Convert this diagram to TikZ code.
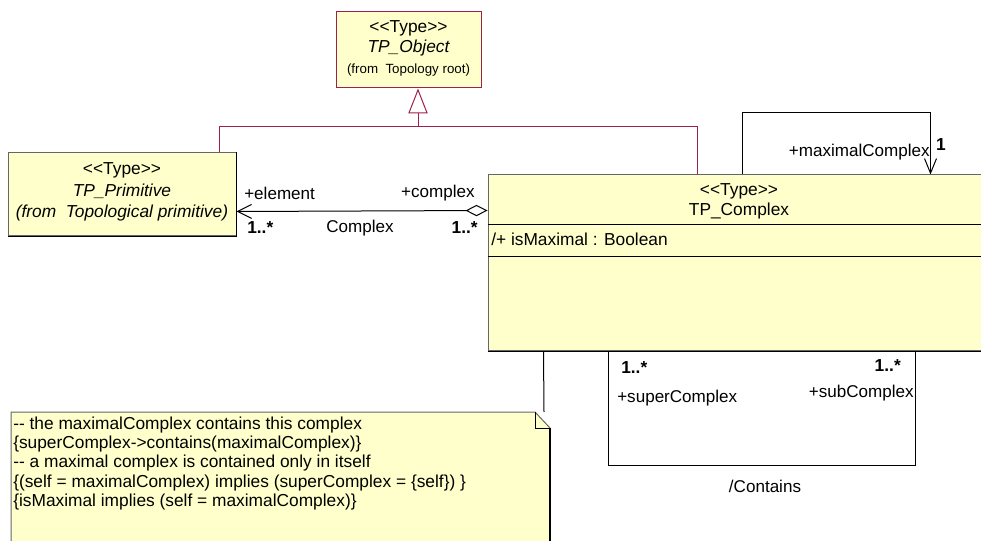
\documentclass[tikz,border=0pt]{standalone}
\usepackage{fontspec}
\setmainfont{Liberation Sans}
\usetikzlibrary{arrows.meta,positioning,calc}

\definecolor{umlfill}{RGB}{255,255,204}
\definecolor{genred}{RGB}{160,30,80}

\begin{document}
\begin{tikzpicture}[x=0.75pt,y=-0.75pt,>=Latex,
    box/.style={draw=black!60, fill=umlfill, line width=0.75pt, inner sep=0pt},
    boxshade/.style={draw=black, line width=1.1pt},
    lbl/.style={font=\fontsize{12.8}{14}\selectfont, inner sep=0pt},
    mult/.style={font=\fontsize{13}{14}\selectfont\bfseries, inner sep=0pt},
    gen/.style={draw=genred, line width=0.75pt},
    assoc/.style={draw=black, line width=0.75pt}]
    \useasboundingbox (0,0) rectangle (981,541);

    % Classes
    \node[box, draw=genred, minimum width=145*0.75pt, minimum height=76*0.75pt] (obj) at (408.5,50) {};
    \node[lbl, font=\fontsize{13}{14}\selectfont] (objst) at (408.5,28) {<{}<Type>{}>};
    \node[lbl, font=\fontsize{13}{14}\selectfont\itshape] (objname) at (408.5,48) {TP\_Object};
    \node[lbl, font=\fontsize{10}{11}\selectfont] (objfrom) at (408.5,70) {(from \ Topology root)};

    \node[box, minimum width=228*0.75pt, minimum height=83*0.75pt] (prim) at (122,194.5) {};
    \draw[boxshade] (prim.south west) -- (prim.south east) -- (prim.north east);
    \node[lbl, font=\fontsize{13}{14}\selectfont] (primst) at (122,170) {<{}<Type>{}>};
    \node[lbl, font=\fontsize{13}{14}\selectfont\itshape] (primname) at (122,191) {TP\_Primitive};
    \node[lbl, font=\fontsize{13}{14}\selectfont\itshape] (primfrom) at (122,213) {(from \ Topological primitive)};

    \node[box, minimum width=502*0.75pt, minimum height=176*0.75pt] (cmp) at (739,263) {};
    \draw[boxshade] (cmp.south west) -- (cmp.south east);
    \draw[assoc] ($(cmp.north west)+(0,50)$) -- ($(cmp.north east)+(0,50)$);
    \draw[assoc] ($(cmp.north west)+(0,82)$) -- ($(cmp.north east)+(0,82)$);
    \node[lbl, font=\fontsize{13}{14}\selectfont] (cmpst) at (739,191) {<{}<Type>{}>};
    \node[lbl, font=\fontsize{13}{14}\selectfont] (cmpname) at (739,211) {TP\_Complex};
    \node[lbl, anchor=west, font=\fontsize{13}{14}\selectfont] (cmpattr) at (491,239) {/+ isMaximal : Boolean};

    % Note
    \coordinate (nnw) at (11,412);
    \coordinate (nfold) at (535,412);
    \coordinate (nne) at (550,428);
    \draw[box] (nnw) -- (nfold) -- (nne) -- (550,560) -- (11,560) -- cycle;
    \draw[boxshade] (nne) -- (550,560);
    \draw[assoc, line width=0.6pt] (nfold) -- (535,428) -- (nne);
    \node[lbl, anchor=north west, align=left, font=\fontsize{13}{14.5}\selectfont] (notetext) at (13,416.5)
        {-{}- the maximalComplex contains this complex\\
         \{superComplex->contains(maximalComplex)\}\\
         -{}- a maximal complex is contained only in itself\\
         \{(self = maximalComplex) implies (superComplex = \{self\}) \}\\
         \{isMaximal implies (self = maximalComplex)\}};
    \draw[assoc] ($(cmp.south west)+(56,0)$) -- (544,412);

    % Generalization
    \coordinate (gj) at (418,127);
    \coordinate (gl) at (219,127);
    \coordinate (gr) at (697,127);
    \draw[gen, -{Triangle[open, length=18.75pt, width=14.5pt]}] (gj) -- (gj |- obj.south);
    \draw[gen] (gl |- prim.north) -- (gl) -- (gr) -- (gr |- cmp.north);

    % Complex aggregation
    \draw[assoc, {Straight Barb[length=10.5pt, width=10.5pt]}-{Diamond[open, length=16.5pt, width=8.5pt]}]
        ($(prim.south east)+(0,-25)$) -- ($(cmp.north west)+(0,36)$);
    \node[lbl, anchor=west] (elem) at (244,193) {+element};
    \node[lbl, anchor=east] (cplx) at (475,193) {+complex};
    \node[mult, anchor=west] (elemm) at (247,228) {1..*};
    \node[lbl] (aggname) at (360,228) {Complex};
    \node[mult, anchor=east] (cplxm) at (478,228) {1..*};

    % maximalComplex
    \draw[assoc, -{Straight Barb[length=11pt, width=9pt]}] ($(cmp.north west)+(255,0)$) -- ++(0,-62) -| ($(cmp.north west)+(443,0)$);
    \node[lbl, anchor=east] (maxc) at (930,152) {+maximalComplex};
    \node[mult] (maxm) at (941,145) {1};

    % Contains
    \draw[assoc] ($(cmp.south west)+(121,0)$) -- ++(0,114) -| ($(cmp.south west)+(428,0)$);
    \node[mult, anchor=west] (supm) at (621,368) {1..*};
    \node[lbl, anchor=west] (sup) at (617,398) {+superComplex};
    \node[mult, anchor=east] (subm) at (901,366) {1..*};
    \node[lbl, anchor=east] (sub) at (914,393) {+subComplex};
    \node[lbl] (contains) at (765,486) {/Contains};
\end{tikzpicture}
\end{document}
